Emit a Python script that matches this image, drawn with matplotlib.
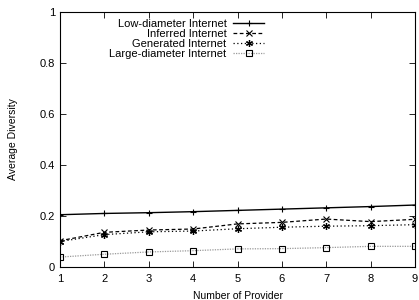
import matplotlib
matplotlib.use('Agg')
import matplotlib.pyplot as plt

plt.rcParams['font.family'] = ['Liberation Sans', 'DejaVu Sans']

providers = [1, 2, 3, 4, 5, 6, 7, 8, 9]
low_diam = [0.205, 0.210, 0.213, 0.217, 0.222, 0.227, 0.232, 0.237, 0.243]
inferred = [0.103, 0.136, 0.145, 0.149, 0.169, 0.175, 0.188, 0.178, 0.187]
generated = [0.100, 0.127, 0.138, 0.141, 0.150, 0.156, 0.160, 0.162, 0.166]
large_diam = [0.039, 0.050, 0.059, 0.064, 0.071, 0.072, 0.076, 0.081, 0.081]

fig = plt.figure(figsize=(4.19, 3.0), dpi=100)
ax = fig.add_axes([60/419, 33/300, 355/419, 255/300])

ax.plot(providers, low_diam, color='black', lw=1.0, marker='+', ms=5, mew=0.8,
        label='Low-diameter Internet')
ax.plot(providers, inferred, color='black', lw=0.9, ls=(0, (3, 2)), marker='x', ms=4, mew=0.8,
        label='Inferred Internet')
ax.plot(providers, generated, color='black', lw=0.9, ls=(0, (1, 2)), marker=(6, 2, 0), ms=5, mew=0.9,
        label='Generated Internet')
ax.plot(providers, large_diam, color='#999999', lw=0.9, ls=(0, (1, 1)), marker='s', ms=4,
        mfc='none', mec='black', mew=0.8, label='Large-diameter Internet')

ax.set_xlim(1, 9)
ax.set_ylim(0, 1)
ax.set_xticks(providers)
ax.set_yticks([0, 0.2, 0.4, 0.6, 0.8, 1])
ax.set_yticklabels(['0', '0.2', '0.4', '0.6', '0.8', '1'])
ax.tick_params(direction='in', top=True, right=True, labelsize=8, length=4, width=0.6)
ax.tick_params(axis='x', pad=5)
for s in ax.spines.values():
    s.set_linewidth(0.8)

ax.set_xlabel('Number of Provider', fontsize=7.5, labelpad=5)
ax.set_ylabel('Average Diversity', fontsize=7.5, labelpad=16)

leg = ax.legend(loc='upper left', bbox_to_anchor=(0.12, 1.0), frameon=False, markerfirst=False,
                fontsize=8, handlelength=2.8, handletextpad=0.6, labelspacing=0.0,
                borderaxespad=0.2)
for t in leg.get_texts():
    t.set_ha('right')
leg._legend_box.align = 'right'

fig.savefig('out.png', dpi=100)
